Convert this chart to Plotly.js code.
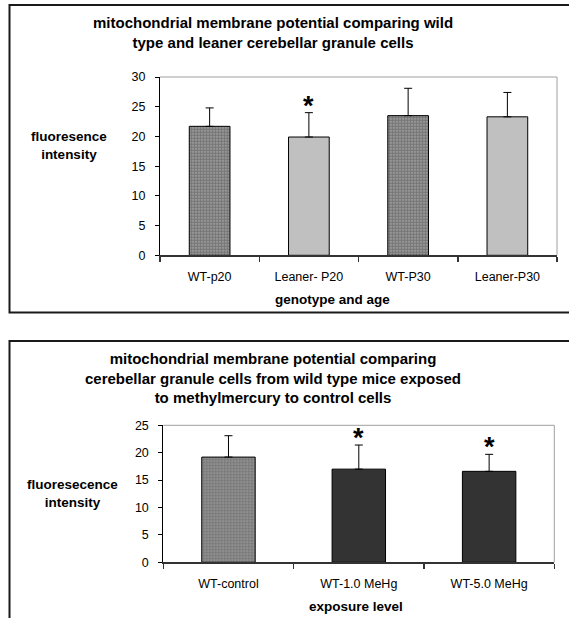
<!DOCTYPE html>
<html>
<head>
<meta charset="utf-8">
<script src="https://cdn.plot.ly/plotly-3.0.1.min.js"></script>
<style>html,body{margin:0;padding:0;background:#fff;}#chart{width:569px;height:618px;}</style>
</head>
<body>
<div id="chart"></div>
<script>
// ---- data ----
const cats1 = ['WT-p20', 'Leaner- P20', 'WT-P30', 'Leaner-P30'];
const vals1 = [21.7, 19.9, 23.5, 23.3];
const errs1 = [3.1, 4.1, 4.6, 4.1];
const stars1 = ['', '*', '', ''];

const cats2 = ['WT-control', 'WT-1.0 MeHg', 'WT-5.0 MeHg'];
const vals2 = [19.2, 17.0, 16.6];
const errs2 = [3.9, 4.4, 3.1];
const stars2 = ['', '*', '*'];

const title1 = 'mitochondrial membrane potential comparing wild<br>type and leaner cerebellar granule cells';
const title2 = 'mitochondrial membrane potential comparing<br>cerebellar granule cells from wild type mice exposed<br>to methylmercury to control cells';
const ytitle1 = 'fluoresence<br>intensity';
const ytitle2 = 'fluoresecence<br>intensity';
const xtitle1 = 'genotype and age';
const xtitle2 = 'exposure level';

// ---- styling / layout helpers ----
const W = 569, H = 618;
const px = x => x / W;
const py = y => 1 - y / H;
const FONT = 'Liberation Sans, Arial, sans-serif';

const colors1 = ['#a8a8a8', '#c0c0c0', '#a8a8a8', '#c0c0c0'];
const shapes1 = ['.', '', '.', ''];
const colors2 = ['#a8a8a8', '#333333', '#333333'];
const shapes2 = ['.', '', ''];

function barTrace(cats, vals, errs, colors, pshapes, xa, ya) {
  return {
    type: 'bar', x: cats, y: vals, xaxis: xa, yaxis: ya,
    marker: {
      color: colors,
      line: {color: '#000', width: 1},
      pattern: {shape: pshapes, fgcolor: '#222222', fillmode: 'overlay', size: 3, solidity: 0.7}
    },
    error_y: {type: 'data', symmetric: false, array: errs, arrayminus: errs.map(() => 0),
              color: '#000', thickness: 1, width: 4},
    hoverinfo: 'skip', showlegend: false
  };
}

const data = [
  barTrace(cats1, vals1, errs1, colors1, shapes1, 'x', 'y'),
  barTrace(cats2, vals2, errs2, colors2, shapes2, 'x2', 'y2')
];

const tickFont = {family: FONT, size: 12.5, color: '#000'};
function xAxis(dom, anchor) {
  return {domain: dom, anchor: anchor, type: 'category', showline: true, linecolor: '#333', linewidth: 1.5,
          ticks: 'outside', tickson: 'boundaries', ticklen: 5, tickcolor: '#333', tickwidth: 1.5,
          ticklabelstandoff: 9, tickfont: tickFont, showgrid: false, zeroline: false, fixedrange: true};
}
function yAxis(dom, anchor, maxv) {
  return {domain: dom, anchor: anchor, range: [0, maxv], dtick: 5, tick0: 0, showline: true,
          linecolor: '#000', linewidth: 1, ticks: 'outside', ticklen: 4, tickcolor: '#000',
          ticklabelstandoff: 7, tickfont: tickFont, showgrid: false, zeroline: false, fixedrange: true};
}

const annotations = [];
function ann(text, x, y, size, bold) {
  annotations.push({text: bold ? '<b>' + text + '</b>' : text, xref: 'paper', yref: 'paper',
    x: px(x), y: py(y), xanchor: 'center', yanchor: 'middle', showarrow: false,
    font: {family: FONT, size: size, color: '#000'}});
}
ann(title1, 273, 32, 15, true);
ann(title2, 273, 377.5, 15, true);
ann(ytitle1, 69, 146, 13.5, true);
ann(ytitle2, 72.6, 493, 13.5, true);
ann(xtitle1, 332, 299, 13.5, true);
ann(xtitle2, 355.6, 606, 13.5, true);

function starAnns(cats, vals, errs, stars, xa, ya) {
  cats.forEach((c, i) => {
    if (!stars[i]) return;
    annotations.push({text: '<b>' + stars[i] + '</b>', x: c, y: vals[i] + errs[i], xref: xa, yref: ya,
      xanchor: 'center', yanchor: 'bottom', yshift: -10, showarrow: false,
      font: {family: FONT, size: 27, color: '#000'}});
  });
}
starAnns(cats1, vals1, errs1, stars1, 'x', 'y');
starAnns(cats2, vals2, errs2, stars2, 'x2', 'y2');

const frameGray = '#a0a0a0';
const shapes = [
  {type: 'line', xref: 'x domain', yref: 'y domain', x0: 0, x1: 1, y0: 1, y1: 1, line: {color: frameGray, width: 1}},
  {type: 'line', xref: 'x domain', yref: 'y domain', x0: 1, x1: 1, y0: 0, y1: 1, line: {color: frameGray, width: 1}},
  {type: 'line', xref: 'x2 domain', yref: 'y2 domain', x0: 0, x1: 1, y0: 1, y1: 1, line: {color: frameGray, width: 1}},
  {type: 'line', xref: 'x2 domain', yref: 'y2 domain', x0: 1, x1: 1, y0: 0, y1: 1, line: {color: frameGray, width: 1}},
  {type: 'rect', xref: 'paper', yref: 'paper', x0: px(9.5), x1: 1.05, y0: py(312.5), y1: py(5), line: {color: '#1a1a1a', width: 2}},
  {type: 'rect', xref: 'paper', yref: 'paper', x0: px(9.5), x1: 1.05, y0: -0.05, y1: py(341), line: {color: '#1a1a1a', width: 2}}
];

const layout = {
  width: W, height: H, autosize: false,
  margin: {l: 0, r: 0, t: 0, b: 0, pad: 0},
  paper_bgcolor: '#fff', plot_bgcolor: '#fff',
  bargap: 0.59,
  xaxis: xAxis([px(160), px(557)], 'y'),
  yaxis: yAxis([py(255.3), py(77)], 'x', 30),
  xaxis2: xAxis([px(163.3), px(554.3)], 'y2'),
  yaxis2: yAxis([py(562.3), py(425.3)], 'x2', 25),
  annotations: annotations,
  shapes: shapes,
  font: {family: FONT, color: '#000'}
};

Plotly.newPlot('chart', data, layout, {displayModeBar: false, staticPlot: true});
</script>
</body>
</html>
